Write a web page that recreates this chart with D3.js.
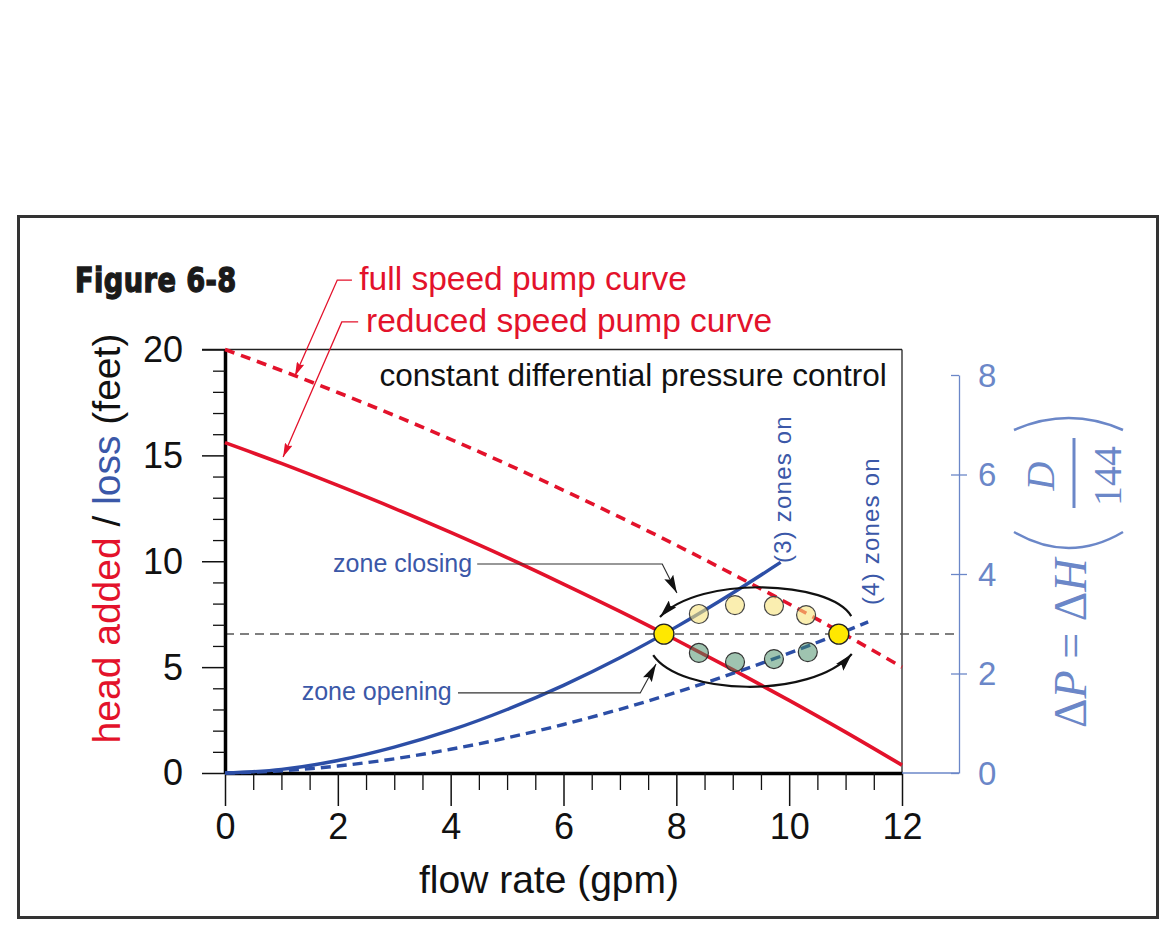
<!DOCTYPE html>
<html><head><meta charset="utf-8">
<script src="https://cdn.jsdelivr.net/npm/d3@7"></script>
<style>
body{margin:0;background:#fff}
svg{display:block}
text{font-family:"Liberation Sans",Arial,Helvetica,sans-serif}
</style>
</head><body>
<svg id="c" width="1170" height="936"></svg>
<script>
// ---------- data ----------
const flowX        = [0,1,2,3,4,5,6,7,8,9,10,11,12];
const fullSpeed    = [20,19.01,17.97,16.89,15.76,14.58,13.35,12.08,10.76,9.39,7.98,6.52,5.0];
const reducedSpeed = [15.6,14.62,13.58,12.50,11.36,10.17,8.92,7.63,6.28,4.88,3.43,1.93,0.37];
const threeZonesX  = [0,1,2,3,4,5,6,7,8,9,9.85];
const threeZones   = [0,0.17,0.59,1.22,2.02,3.00,4.14,5.44,6.90,8.50,9.95];
const fourZonesX   = [0,1,2,3,4,5,6,7,8,9,10,11,11.4];
const fourZones    = [0,0.10,0.33,0.67,1.12,1.66,2.29,3.01,3.81,4.70,5.66,6.70,7.14];
const setpoint     = 6.56;
const operatingX   = [7.78,10.88];
const operatingY   = [6.56,6.56];
const closingX     = [8.40,9.04,9.73,10.30];
const closingY     = [7.51,7.93,7.89,7.46];
const openingX     = [8.40,9.04,9.73,10.33];
const openingY     = [5.67,5.24,5.38,5.71];
const xTicks       = [0,2,4,6,8,10,12];
const xMinor       = d3.range(0,12.01,0.5).filter(v=>v%2!==0);
const yTicks       = [0,5,10,15,20];
const yMinor       = d3.range(1,20).filter(v=>v%5!==0);
const psiTicks     = [0,2,4,6,8];

// ---------- style ----------
const RED="#e3122b", BLUE="#2c4ea6", BLUET="#3b58a8", LBLUE="#6b87c8";

const svg = d3.select("#c");
const x = d3.scaleLinear().domain([0,12]).range([225,902]);
const y = d3.scaleLinear().domain([0,20]).range([773,349.5]);
const yR = d3.scaleLinear().domain([0,8]).range([773,375]);

// defs
const defs = svg.append("defs");
defs.append("marker").attr("id","ab").attr("viewBox","0 0 18 10").attr("refX",18).attr("refY",5)
  .attr("markerWidth",18).attr("markerHeight",10).attr("markerUnits","userSpaceOnUse").attr("orient","auto")
  .append("path").attr("d","M0,0 L18,5 L0,10 L3,5 Z").attr("fill","#111");
defs.append("marker").attr("id","ar").attr("viewBox","0 0 14 8").attr("refX",14).attr("refY",4)
  .attr("markerWidth",14).attr("markerHeight",8).attr("markerUnits","userSpaceOnUse").attr("orient","auto")
  .append("path").attr("d","M0,0 L14,4 L0,8 L2,4 Z").attr("fill",RED);

// outer frame
svg.append("rect").attr("x",18.5).attr("y",216.5).attr("width",1139).attr("height",701)
  .attr("fill","none").attr("stroke","#333").attr("stroke-width",3);

// Figure label
svg.append("text").attr("transform","translate(75,292) scale(0.89,1)").text("Figure 6-8")
  .style("font-family","'DejaVu Sans Condensed','DejaVu Sans',sans-serif").style("font-weight","bold")
  .style("font-size","34px").attr("fill","#1a1a1a").attr("stroke","#1a1a1a").attr("stroke-width",1.3)
  .style("letter-spacing","0.5px");

// plot frame (top & right thin)
svg.append("line").attr("x1",202).attr("x2",x(12)).attr("y1",y(20)).attr("y2",y(20)).attr("stroke","#222").attr("stroke-width",1.3);
svg.append("line").attr("x1",x(12)).attr("x2",x(12)).attr("y1",y(20)).attr("y2",y(0)).attr("stroke","#222").attr("stroke-width",1.3);

// dashed setpoint line
svg.append("line").attr("x1",x(0)).attr("x2",959).attr("y1",y(setpoint)).attr("y2",y(setpoint))
  .attr("stroke","#555").attr("stroke-width",1.5).attr("stroke-dasharray","9,6");

// left axis
const gL = svg.append("g").attr("transform",`translate(${x(0)},0)`);
gL.call(d3.axisLeft(y).tickValues(yTicks).tickSize(23).tickPadding(19).tickSizeOuter(0));
gL.select(".domain").attr("stroke","#000").attr("stroke-width",3.5);
gL.selectAll(".tick line").attr("stroke","#111").attr("stroke-width",1.5);
gL.selectAll(".tick text").style("font-size","36px").attr("fill","#111").attr("dy","0.33em")
  .style("font-family","'Liberation Sans',Arial,sans-serif");
const gLm = svg.append("g").attr("transform",`translate(${x(0)},0)`);
gLm.call(d3.axisLeft(y).tickValues(yMinor).tickSize(12).tickFormat("").tickSizeOuter(0));
gLm.select(".domain").remove();
gLm.selectAll(".tick line").attr("stroke","#111").attr("stroke-width",1.3);

// bottom axis
const gB = svg.append("g").attr("transform",`translate(0,${y(0)})`);
gB.call(d3.axisBottom(x).tickValues(xTicks).tickSize(33).tickPadding(7).tickSizeOuter(0));
gB.select(".domain").attr("stroke","#000").attr("stroke-width",3.5);
gB.selectAll(".tick line").attr("stroke","#111").attr("stroke-width",1.5);
gB.selectAll(".tick text").style("font-size","36px").attr("fill","#111")
  .style("font-family","'Liberation Sans',Arial,sans-serif");
const gBm = svg.append("g").attr("transform",`translate(0,${y(0)})`);
gBm.call(d3.axisBottom(x).tickValues(xMinor).tickSize(17).tickFormat("").tickSizeOuter(0));
gBm.select(".domain").remove();
gBm.selectAll(".tick line").attr("stroke","#111").attr("stroke-width",1.3);

// right axis (psi)
svg.append("line").attr("x1",x(12)).attr("x2",959).attr("y1",yR(0)).attr("y2",yR(0)).attr("stroke",LBLUE).attr("stroke-width",1.3);
const gR = svg.append("g").attr("transform","translate(959,0)");
gR.call(d3.axisRight(yR).tickValues(psiTicks).tickSize(8).tickPadding(11).tickSizeOuter(0));
gR.select(".domain").attr("stroke",LBLUE).attr("stroke-width",1.3);
gR.selectAll(".tick line").attr("stroke",LBLUE).attr("stroke-width",1.3)
  .attr("x1",-8).attr("x2",d=> d===8?0:(d===0?0:8));
gR.selectAll(".tick text").style("font-size","33px").attr("fill",LBLUE).attr("dy","0.34em")
  .style("font-family","'Liberation Sans',Arial,sans-serif");

// left axis title
const lt = svg.append("text").attr("transform","translate(120,538.5) rotate(-90)")
  .attr("text-anchor","middle").style("font-size","39px");
lt.append("tspan").attr("fill",RED).text("head added");
lt.append("tspan").attr("fill","#111").text(" / ");
lt.append("tspan").attr("fill",BLUET).text("loss");
lt.append("tspan").attr("fill","#111").text(" (feet)");

// x axis title
svg.append("text").attr("x",549).attr("y",893).attr("text-anchor","middle")
  .style("font-size","39px").attr("fill","#111").text("flow rate (gpm)");

// right axis title  ΔP = ΔH (D/144)
const rt = svg.append("g").attr("transform","translate(1086,728) rotate(-90)").attr("fill",LBLUE);
const rtt = rt.append("text").attr("x",0).attr("y",0).style("font-family","'Liberation Serif','Times New Roman',serif").style("font-size","46px");
rtt.append("tspan").text("Δ");
rtt.append("tspan").style("font-style","italic").text("P");
rtt.append("tspan").text(" = Δ");
rtt.append("tspan").style("font-style","italic").text("H");
rt.append("text").attr("x",252).attr("y",-32).attr("text-anchor","middle")
  .style("font-family","'Liberation Serif','Times New Roman',serif").style("font-style","italic").style("font-size","40px").text("D");
rt.append("text").attr("x",252).attr("y",35).attr("text-anchor","middle")
  .style("font-family","'Liberation Serif','Times New Roman',serif").style("font-size","40px").text("144");
rt.append("line").attr("x1",220).attr("x2",290).attr("y1",-12).attr("y2",-12).attr("stroke",LBLUE).attr("stroke-width",3);
rt.append("path").attr("d","M196,-72 Q164,-17 196,37").attr("fill","none").attr("stroke",LBLUE).attr("stroke-width",2.5);
rt.append("path").attr("d","M298,-72 Q322,-17 298,37").attr("fill","none").attr("stroke",LBLUE).attr("stroke-width",2.5);

// curves
const line = d3.line().x(d=>x(d[0])).y(d=>y(d[1])).curve(d3.curveMonotoneX);
svg.append("path").attr("d",line(flowX.map((v,i)=>[v,fullSpeed[i]])))
  .attr("fill","none").attr("stroke",RED).attr("stroke-width",3.6).attr("stroke-dasharray","10,7");
svg.append("path").attr("d",line(flowX.map((v,i)=>[v,reducedSpeed[i]])))
  .attr("fill","none").attr("stroke",RED).attr("stroke-width",3.6);
svg.append("path").attr("d",line(fourZonesX.map((v,i)=>[v,fourZones[i]])))
  .attr("fill","none").attr("stroke",BLUE).attr("stroke-width",3.4).attr("stroke-dasharray","10,6");
svg.append("path").attr("d",line(threeZonesX.map((v,i)=>[v,threeZones[i]])))
  .attr("fill","none").attr("stroke",BLUE).attr("stroke-width",3.4);

// top text
svg.append("text").attr("x",x(11.73)).attr("y",y(18.28)).attr("text-anchor","end")
  .style("font-size","31.5px").attr("fill","#111").text("constant differential pressure control");

// red labels + leaders
svg.append("text").attr("x",x(2.38)).attr("y",y(22.81)).style("font-size","33.5px").attr("fill",RED).text("full speed pump curve");
svg.append("text").attr("x",x(2.50)).attr("y",y(20.83)).style("font-size","33.5px").attr("fill",RED).text("reduced speed pump curve");
const pl = d3.line().x(d=>x(d[0])).y(d=>y(d[1]));
const fullLeader = [[2.25,23.28],[1.99,23.28],[1.24,18.75]];
const redLeader  = [[2.36,21.30],[2.07,21.30],[1.03,14.92]];
[fullLeader, redLeader].forEach(p=>{
  svg.append("path").attr("d",pl(p)).attr("fill","none").attr("stroke",RED).attr("stroke-width",1.3).attr("marker-end","url(#ar)");
});

// zone closing / opening labels
svg.append("text").attr("x",x(4.38)).attr("y",y(9.49)).attr("text-anchor","end").style("font-size","25px").attr("fill",BLUET).text("zone closing");
svg.append("text").attr("x",x(4.02)).attr("y",y(3.45)).attr("text-anchor","end").style("font-size","25px").attr("fill",BLUET).text("zone opening");
const closingLeader = [[4.47,9.87],[7.75,9.87],[8.01,8.50]];
const openingLeader = [[4.13,3.78],[7.36,3.78],[7.64,5.15]];
[closingLeader, openingLeader].forEach(p=>{
  svg.append("path").attr("d",pl(p)).attr("fill","none").attr("stroke","#333").attr("stroke-width",1.2).attr("marker-end","url(#ab)");
});

// zones on labels
svg.append("text").attr("transform",`translate(${x(10.03)},${y(9.92)}) rotate(-90)`)
  .style("font-size","24px").style("letter-spacing","1.2px").attr("fill",BLUET).text("(3) zones on");
svg.append("text").attr("transform",`translate(${x(11.59)},${y(7.93)}) rotate(-90)`)
  .style("font-size","24px").style("letter-spacing","1.2px").attr("fill",BLUET).text("(4) zones on");

// arcs with arrows
const upperArc = [[11.10,7.41],[10.72,9.11],[8.42,9.35],[7.71,7.37]];
const lowerArc = [[7.59,5.57],[8.07,3.68],[10.37,3.45],[11.11,5.62]];
[upperArc, lowerArc].forEach(a=>{
  const p = d3.path();
  p.moveTo(x(a[0][0]),y(a[0][1]));
  p.bezierCurveTo(x(a[1][0]),y(a[1][1]),x(a[2][0]),y(a[2][1]),x(a[3][0]),y(a[3][1]));
  svg.append("path").attr("d",p.toString()).attr("fill","none").attr("stroke","#111").attr("stroke-width",2.2).attr("marker-end","url(#ab)");
});

// dots
svg.selectAll(".cl").data(closingX).join("circle").attr("cx",d=>x(d)).attr("cy",(d,i)=>y(closingY[i])).attr("r",9.5)
  .attr("fill","#f6e27c").attr("fill-opacity",0.6).attr("stroke","#444").attr("stroke-width",1.2);
svg.selectAll(".op").data(openingX).join("circle").attr("cx",d=>x(d)).attr("cy",(d,i)=>y(openingY[i])).attr("r",9.5)
  .attr("fill","#3f8a62").attr("fill-opacity",0.5).attr("stroke","#333").attr("stroke-width",1.2);
svg.selectAll(".yp").data(operatingX).join("circle").attr("cx",d=>x(d)).attr("cy",(d,i)=>y(operatingY[i])).attr("r",10)
  .attr("fill","#ffe800").attr("stroke","#222").attr("stroke-width",1.4);
</script>
</body></html>
